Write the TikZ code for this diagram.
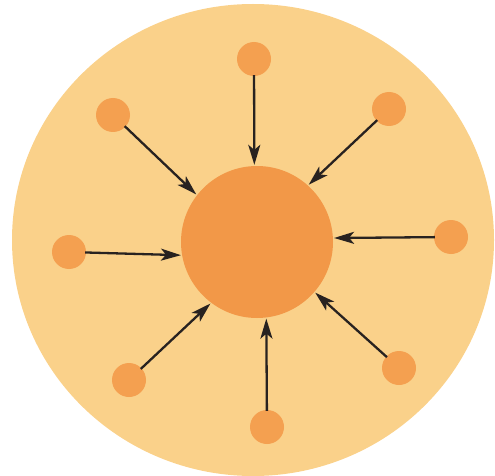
\documentclass[tikz,border=0pt]{standalone}
\usetikzlibrary{arrows.meta}
\definecolor{bgdisc}{RGB}{250,209,138}
\definecolor{core}{RGB}{242,152,72}
\definecolor{dot}{RGB}{244,160,80}
\definecolor{ink}{RGB}{40,34,32}
\tikzset{
  dotnode/.style={circle,fill=dot,minimum size=34pt,inner sep=0pt},
  corenode/.style={circle,fill=core,minimum size=152pt,inner sep=0pt},
  feed/.style={draw=ink,line width=2.3pt,-{Stealth[length=20pt,width=12pt,inset=5pt]},shorten <=-1pt,shorten >=1pt}
}
\begin{document}
\begin{tikzpicture}[x=1pt,y=-1pt]
\useasboundingbox (0,0) rectangle (495,476);
\fill[bgdisc] (253,240) ellipse [x radius=241, y radius=236];
\node[corenode] (c) at (257,242) {};
\node[dotnode] (t)  at (254,59) {};
\node[dotnode] (ul) at (113,115) {};
\node[dotnode] (ur) at (389,109) {};
\node[dotnode] (l)  at (69,252) {};
\node[dotnode] (r)  at (451,237) {};
\node[dotnode] (ll) at (129,380) {};
\node[dotnode] (lr) at (399,368) {};
\node[dotnode] (b)  at (267,427) {};
\draw[feed] (t)  -- (c.92);
\draw[feed] (ul) -- (c.142);
\draw[feed] (ur) -- (c.48);
\draw[feed] (r)  -- (c.3);
\draw[feed] (l)  -- (c.190);
\draw[feed] (ll) -- (c.233);
\draw[feed] (lr) -- (c.319);
\draw[feed] (b)  -- (c.277);
\end{tikzpicture}
\end{document}
